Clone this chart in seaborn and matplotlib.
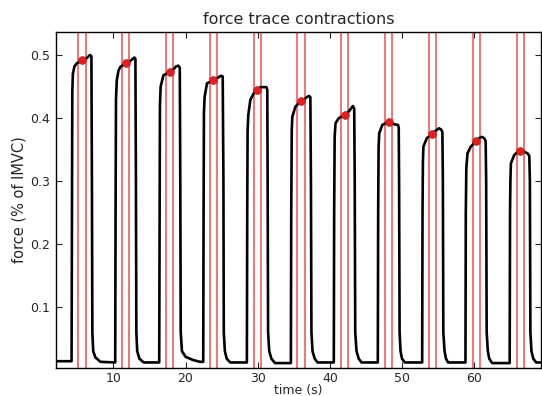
import matplotlib
matplotlib.use('agg')
import matplotlib.pyplot as plt
import seaborn as sb
import pandas as pd

# force trace vertices (time s, force), one contraction per row
traceTime = [
    2.0, 4.2,
    4.25, 4.3, 4.38, 4.6, 4.95, 5.68, 6.3, 6.75, 6.95, 7.02, 7.08, 7.2, 7.5, 8.2,
    10.25, 10.3, 10.36, 10.47, 10.7, 10.95, 11.7, 12.4, 12.9, 13.05, 13.12, 13.18, 13.3, 13.6, 14.2,
    16.35, 16.4, 16.45, 16.55, 16.94, 17.78, 18.3, 18.7, 19.0, 19.2, 19.27, 19.33, 19.5, 20.0, 21.0, 22.0,
    22.45, 22.5, 22.55, 22.65, 22.97, 23.85, 24.5, 24.9, 25.15, 25.25, 25.3, 25.45, 25.7, 26.2,
    28.5, 28.55, 28.6, 28.7, 28.98, 29.44, 29.93, 30.37, 31.2, 31.33, 31.38, 31.44, 31.6, 31.9, 32.4,
    34.6, 34.65, 34.72, 34.8, 35.23, 36.0, 36.5, 36.8, 37.1, 37.3, 37.38, 37.45, 37.6, 37.9, 38.3,
    40.55, 40.6, 40.67, 40.79, 41.25, 42.04, 42.6, 43.0, 43.2, 43.38, 43.45, 43.52, 43.7, 44.0, 44.4,
    46.65, 46.7, 46.76, 46.85, 47.27, 48.15, 48.5, 48.9, 49.45, 49.55, 49.6, 49.67, 49.8, 50.0, 50.4,
    52.8, 52.85, 52.9, 52.97, 53.43, 54.22, 54.7, 55.1, 55.4, 55.6, 55.67, 55.73, 55.9, 56.1, 56.4,
    58.8, 58.85, 58.92, 59.08, 59.54, 60.33, 60.7, 61.05, 61.4, 61.6, 61.67, 61.74, 61.9, 62.1, 62.5,
    64.93, 64.98, 65.03, 65.1, 65.55, 66.0, 66.4, 66.9, 67.4, 67.65, 67.73, 67.8, 67.95, 68.2, 68.6, 69.4,
]
traceForce = [
    0.014, 0.014,
    0.25, 0.44, 0.470, 0.482, 0.487, 0.4916, 0.495, 0.500, 0.498, 0.30, 0.06, 0.03, 0.02, 0.013,
    0.012, 0.25, 0.43, 0.460, 0.475, 0.481, 0.487, 0.491, 0.496, 0.494, 0.30, 0.06, 0.03, 0.018, 0.012,
    0.012, 0.25, 0.42, 0.450, 0.468, 0.4725, 0.477, 0.482, 0.483, 0.480, 0.30, 0.06, 0.03, 0.021, 0.016, 0.013,
    0.013, 0.25, 0.41, 0.434, 0.455, 0.460, 0.464, 0.467, 0.466, 0.30, 0.06, 0.03, 0.018, 0.012,
    0.012, 0.25, 0.38, 0.405, 0.4286, 0.439, 0.445, 0.449, 0.449, 0.445, 0.30, 0.06, 0.03, 0.018, 0.011,
    0.011, 0.25, 0.38, 0.402, 0.418, 0.427, 0.430, 0.433, 0.435, 0.433, 0.30, 0.06, 0.03, 0.018, 0.012,
    0.012, 0.25, 0.37, 0.3916, 0.400, 0.4043, 0.410, 0.416, 0.419, 0.415, 0.30, 0.06, 0.03, 0.018, 0.012,
    0.012, 0.25, 0.355, 0.3757, 0.389, 0.394, 0.394, 0.390, 0.389, 0.385, 0.30, 0.06, 0.03, 0.018, 0.012,
    0.012, 0.25, 0.33, 0.3545, 0.3678, 0.375, 0.380, 0.3836, 0.382, 0.378, 0.30, 0.06, 0.03, 0.018, 0.012,
    0.012, 0.25, 0.32, 0.344, 0.3545, 0.364, 0.368, 0.370, 0.368, 0.363, 0.30, 0.06, 0.03, 0.018, 0.011,
    0.011, 0.25, 0.30, 0.328, 0.341, 0.346, 0.3476, 0.3465, 0.344, 0.340, 0.30, 0.06, 0.03, 0.018, 0.012, 0.012,
]

# window edges (red lines) and marked force at window centre
windowStart = [5.14, 11.21, 17.27, 23.33, 29.44, 35.47, 41.53, 47.64, 53.71, 59.82, 65.89]
windowEnd = [6.21, 12.22, 18.29, 24.36, 30.41, 36.53, 42.55, 48.66, 54.72, 60.83, 66.9]
markTime = [5.68, 11.72, 17.78, 23.85, 29.93, 36.0, 42.04, 48.15, 54.22, 60.33, 66.4]
markForce = [0.4916, 0.487, 0.4725, 0.460, 0.445, 0.427, 0.4043, 0.394, 0.375, 0.364, 0.3476]

trace = pd.DataFrame({"time": traceTime, "force": traceForce})
marks = pd.DataFrame({"time": markTime, "force": markForce})

sb.set_style("ticks")
plt.rcParams['font.family'] = ['DejaVu Sans']
plt.rcParams['xtick.direction'] = 'in'
plt.rcParams['ytick.direction'] = 'in'

fig = plt.figure(figsize=(5.42, 3.96), dpi=100)
ax = fig.add_axes([0.1033, 0.0707, 0.8947, 0.8485])

for a, b in zip(windowStart, windowEnd):
    ax.axvline(a, color='#ee3333', lw=1.2, alpha=0.8, zorder=1)
    ax.axvline(b, color='#ee3333', lw=1.2, alpha=0.8, zorder=1)

sb.lineplot(data=trace, x="time", y="force", sort=False, estimator=None,
            color='black', lw=1.9, ax=ax, zorder=2)
sb.scatterplot(data=marks, x="time", y="force", color='#e02020', s=32,
               edgecolor='#b01515', linewidth=0.4, ax=ax, zorder=3)

ax.set_xlim(2.04, 69.26)
ax.set_ylim(0.0032, 0.5365)
ax.set_xticks([10, 20, 30, 40, 50, 60])
ax.set_yticks([0.1, 0.2, 0.3, 0.4, 0.5])
ax.tick_params(axis='y', labelsize=9, pad=4)
ax.tick_params(axis='x', labelsize=9, pad=3)
ax.tick_params(top=True, right=True, length=4, width=0.8)
for s in ax.spines.values():
    s.set_linewidth(1.0)
    s.set_color('black')
ax.set_xlabel('time (s)', fontsize=9, labelpad=-1)
ax.set_ylabel('force (% of IMVC)', fontsize=10.5, labelpad=3)
ax.set_title('force trace contractions', fontsize=11.5)

plt.savefig('out.png', dpi=100)
plt.close()
